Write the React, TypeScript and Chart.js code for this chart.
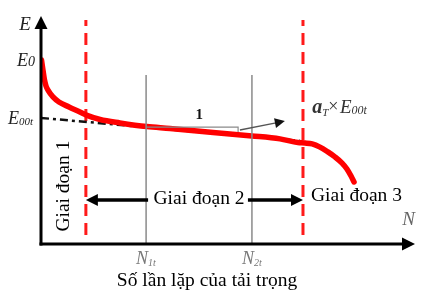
import React, { useEffect, useRef } from "react";
import { Chart, registerables } from "chart.js";

Chart.register(...registerables);

// Curve of modulus E versus number of load repetitions N (conceptual units 0..100)
const curveN = [0.13, 0.53, 0.94, 1.34, 1.87, 3.2, 4.8, 7.5, 10.4, 12.3, 15.8, 21.1, 28.3, 34.5, 46.0, 56.4, 63.9, 68.7, 70.6, 72.5, 74.6, 76.7, 78.6, 80.5, 81.8, 82.9, 83.7];
const curveE = [80.7, 76.3, 71.9, 69.3, 67.5, 64.5, 62.3, 60.1, 57.9, 56.4, 54.6, 53.1, 51.5, 50.7, 48.9, 47.4, 46.1, 44.5, 44.3, 43.9, 42.5, 40.4, 38.2, 35.5, 32.9, 29.8, 27.2];

// Linear trend (dash-dot) of stage 2
const trendN = [0, 69.3];
const trendE = [55.3, 45.2];

// Stage boundaries (red dashed verticals)
const stageBoundN = [12.0, 70.05];
const stageBoundE = [3.9, 98.2];

// Reference cycle markers N1t, N2t
const markerN = [28.1, 56.4];
const markerTopE = 74.1;
const markerMain = ["N", "N"];
const markerSub = ["1t", "2t"];

// Slope marker ("1") and arrow toward aT x E00t
const slopeN = [28.1, 52.7, 52.7];
const slopeE = [51.3, 51.3, 49.1];
const slopeArrowN = [53.2, 65.2];
const slopeArrowE = [50.0, 53.9];

// Stage arrows height
const stageArrowE = 19.3;

const stageLabels = ["Giai đoạn 1", "Giai đoạn 2", "Giai đoạn 3"];
const xTitle = "Số lần lặp của tải trọng";
const yAxisName = "E";
const xAxisName = "N";

const SERIF = '"Liberation Serif", "Times New Roman", serif';
const FS = 19.5;

function arrow(ctx: CanvasRenderingContext2D, x1: number, y1: number, x2: number, y2: number, lw: number, color: string, hl: number, hw: number, lineColor?: string) {
  const ang = Math.atan2(y2 - y1, x2 - x1);
  const bx = x2 - hl * Math.cos(ang);
  const by = y2 - hl * Math.sin(ang);
  ctx.save();
  ctx.strokeStyle = lineColor || color;
  ctx.lineWidth = lw;
  ctx.setLineDash([]);
  ctx.beginPath();
  ctx.moveTo(x1, y1);
  ctx.lineTo(bx + Math.cos(ang), by + Math.sin(ang));
  ctx.stroke();
  ctx.fillStyle = color;
  ctx.beginPath();
  ctx.moveTo(x2, y2);
  ctx.lineTo(bx + hw * Math.sin(ang), by - hw * Math.cos(ang));
  ctx.lineTo(bx - hw * Math.sin(ang), by + hw * Math.cos(ang));
  ctx.closePath();
  ctx.fill();
  ctx.restore();
}

function subText(ctx: CanvasRenderingContext2D, main: string, sub: string, x: number, y: number, size: number, subSize: number, color: string, mainFont = "italic", subFont = "italic", subDy = 3) {
  ctx.save();
  ctx.fillStyle = color;
  ctx.textAlign = "left";
  ctx.textBaseline = "alphabetic";
  ctx.font = `${mainFont} ${size}px ${SERIF}`;
  ctx.fillText(main, x, y);
  const w = ctx.measureText(main).width;
  ctx.font = `${subFont} ${subSize}px ${SERIF}`;
  ctx.fillText(sub, x + w, y + subDy);
  const w2 = ctx.measureText(sub).width;
  ctx.restore();
  return w + w2;
}

const decor = {
  id: "decor",
  afterDatasetsDraw(chart: any) {
    const ctx: CanvasRenderingContext2D = chart.ctx;
    const xs = chart.scales.x;
    const ys = chart.scales.y;
    const px = (v: number) => xs.getPixelForValue(v);
    const py = (v: number) => ys.getPixelForValue(v);

    // axes
    const x0 = px(0);
    const y0 = py(0);
    arrow(ctx, x0, y0 + 1.5, x0, py(100), 3, "#000", 13, 6.5);
    arrow(ctx, x0 - 1.5, y0, px(100), y0, 3, "#000", 13, 6.5);

    // axis names
    ctx.save();
    ctx.fillStyle = "#222";
    ctx.font = `italic 19px ${SERIF}`;
    ctx.textAlign = "center";
    ctx.textBaseline = "middle";
    ctx.fillText(yAxisName, x0 - 16, py(100) + 9);
    ctx.fillStyle = "#666";
    ctx.fillText(xAxisName, px(98.3), py(10.5));
    ctx.restore();

    // E0 and E00t labels
    subText(ctx, "E", "0", x0 - 24, py(curveE[0]) + 6, 18, 14, "#222", "italic", "italic", 0);
    subText(ctx, "E", "00t", x0 - 33, py(trendE[0]) + 6, 18, 11, "#222", "italic", "italic", 1);

    // marker labels
    for (let i = 0; i < markerN.length; i++) {
      subText(ctx, markerMain[i], markerSub[i], px(markerN[i]) - 10, y0 + 20, 18, 10, "#777", "italic", "italic", 2);
    }

    // slope label "1"
    ctx.save();
    ctx.fillStyle = "#111";
    ctx.font = `bold 15px ${SERIF}`;
    ctx.textAlign = "center";
    ctx.textBaseline = "alphabetic";
    ctx.fillText("1", px(42.3), py(55.0));
    ctx.restore();

    // slope arrow
    arrow(ctx, px(slopeArrowN[0]), py(slopeArrowE[0]), px(slopeArrowN[1]), py(slopeArrowE[1]), 1.3, "#111", 10, 5, "#555");

    // aT x E00t label
    let lx = px(72.5);
    const ly = py(57.5);
    lx += subText(ctx, "a", "T", lx, ly, 20, 11, "#333", "bold italic", "italic", 3);
    ctx.save();
    ctx.fillStyle = "#333";
    ctx.font = `18px ${SERIF}`;
    ctx.textAlign = "left";
    ctx.fillText("×", lx, ly - 1);
    lx += ctx.measureText("×").width + 1.5;
    ctx.restore();
    subText(ctx, "E", "00t", lx, ly, 19, 12, "#333", "italic", "italic", 1);

    // stage arrows
    const ay = py(stageArrowE);
    arrow(ctx, px(markerN[0]) + 2, ay, px(stageBoundN[0]), ay, 3.5, "#000", 12, 6);
    arrow(ctx, px(markerN[1]) - 4, ay, px(stageBoundN[1]), ay, 3.5, "#000", 12, 6);

    // stage labels
    ctx.save();
    ctx.fillStyle = "#000";
    ctx.font = `${FS}px ${SERIF}`;
    ctx.textBaseline = "middle";
    ctx.textAlign = "center";
    ctx.fillText(stageLabels[1], (px(markerN[0]) + px(markerN[1])) / 2, ay - 1);
    ctx.textAlign = "left";
    ctx.fillText(stageLabels[2], px(stageBoundN[1]) + 8, ay - 4);
    ctx.save();
    ctx.translate((x0 + px(stageBoundN[0])) / 2, py(25.4));
    ctx.rotate(-Math.PI / 2);
    ctx.textAlign = "center";
    ctx.fillText(stageLabels[0], 0, 0);
    ctx.restore();
    ctx.textAlign = "center";
    ctx.fillText(xTitle, 207, 281);
    ctx.restore();
  },
};

export default function App() {
  const ref = useRef<HTMLCanvasElement>(null);
  useEffect(() => {
    if (!ref.current) return;
    const pts = (xs: number[], ys: number[]) => xs.map((x, i) => ({ x, y: ys[i] }));
    const chart = new Chart(ref.current, {
      type: "line",
      data: {
        datasets: [
          {
            data: pts(markerN.flatMap((n) => [n, n]), markerN.flatMap(() => [0, markerTopE])) as any,
            borderColor: "#8a8a8a",
            borderWidth: 1.5,
            pointRadius: 0,
            segment: { borderColor: (c: any) => (c.p0DataIndex % 2 === 0 ? "#8a8a8a" : "rgba(0,0,0,0)") },
          } as any,
          {
            data: pts(slopeN, slopeE) as any,
            borderColor: "#8a8a8a",
            borderWidth: 1.2,
            pointRadius: 0,
          },
          {
            data: pts(curveN, curveE) as any,
            borderColor: "#ff0000",
            borderWidth: 5.5,
            pointRadius: 0,
            cubicInterpolationMode: "monotone",
            borderCapStyle: "round",
          },
          {
            data: pts(trendN, trendE) as any,
            borderColor: "#111",
            borderWidth: 2.5,
            borderDash: [8, 4, 3, 4],
            pointRadius: 0,
          },
          ...stageBoundN.map((n) => ({
            data: pts([n, n], stageBoundE) as any,
            borderColor: "#ff1a1a",
            borderWidth: 3,
            borderDash: [12, 7],
            pointRadius: 0,
          })),
        ],
      },
      options: {
        responsive: false,
        animation: false,
        layout: { padding: { left: 41, right: 15, top: 16, bottom: 62 } },
        plugins: { legend: { display: false }, tooltip: { enabled: false } },
        scales: {
          x: { type: "linear", min: 0, max: 100, display: false },
          y: { type: "linear", min: 0, max: 100, display: false },
        },
      },
      plugins: [decor],
    });
    return () => chart.destroy();
  }, []);
  return (
    <div style={{ position: "fixed", left: 0, top: 0, width: 430, height: 306, background: "#fff" }}>
      <canvas ref={ref} width={430} height={306} style={{ width: 430, height: 306, display: "block" }} />
    </div>
  );
}
